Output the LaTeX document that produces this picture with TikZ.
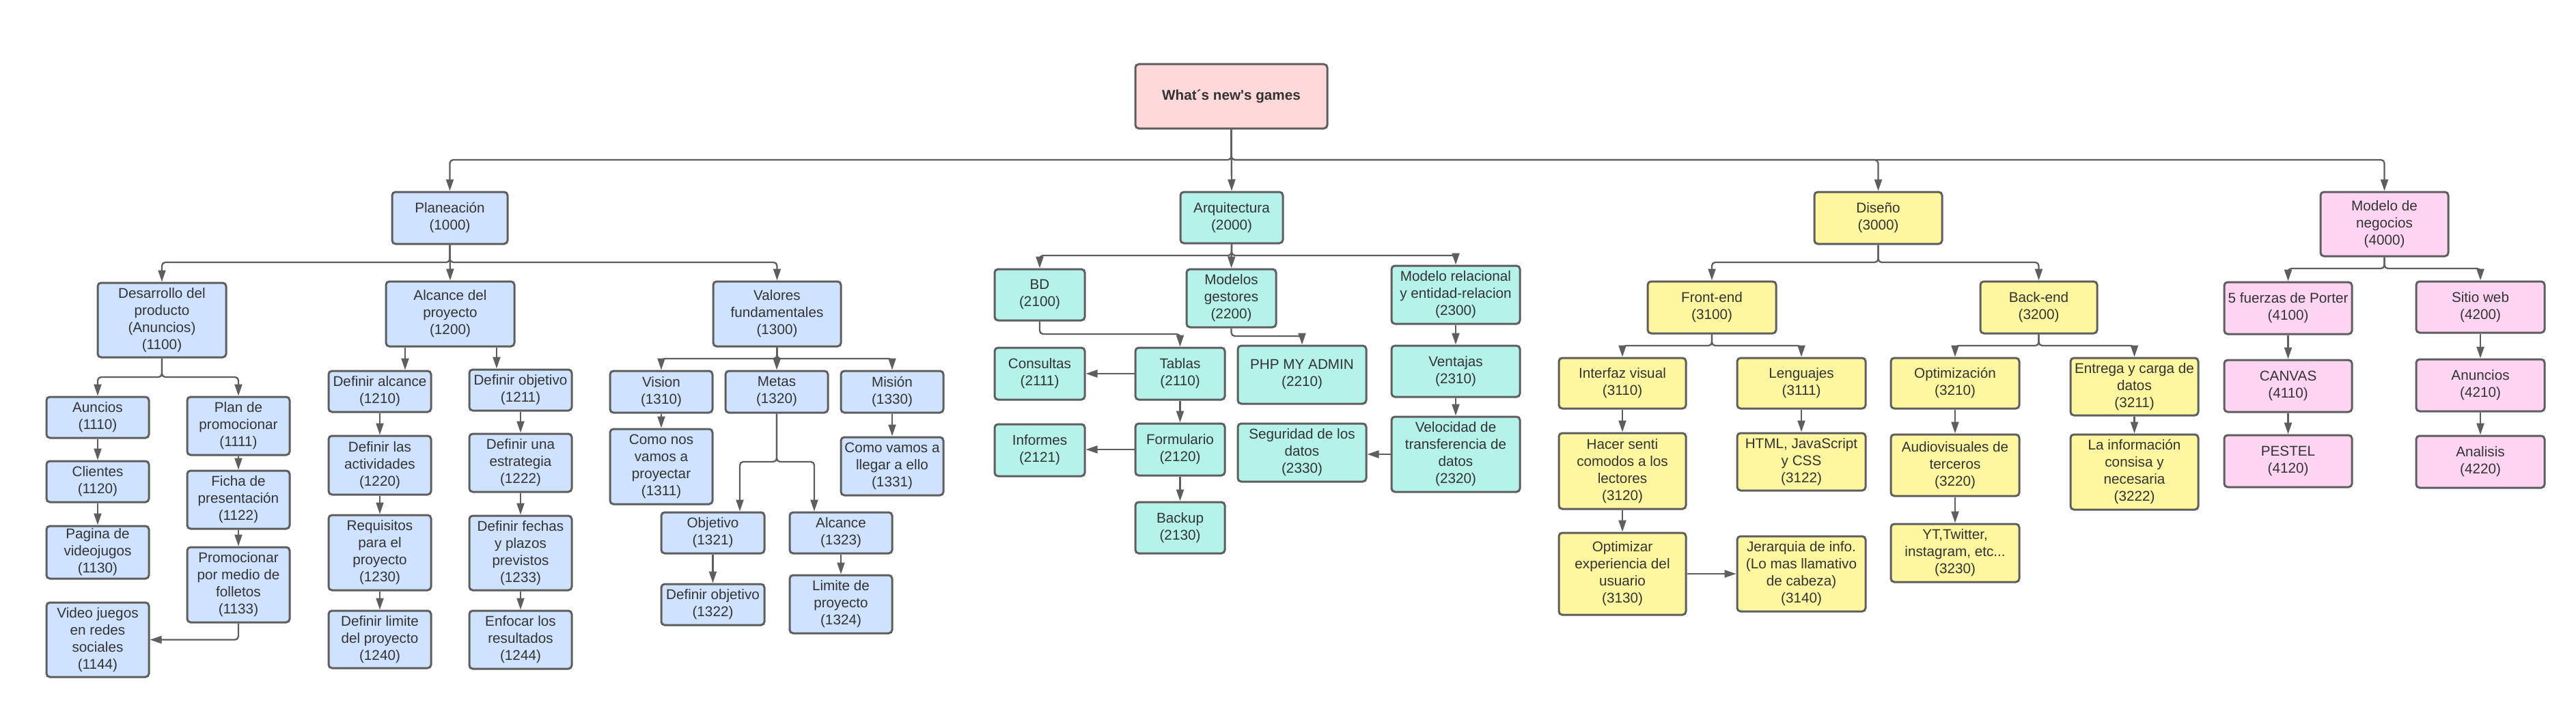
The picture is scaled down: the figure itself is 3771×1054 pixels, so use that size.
\documentclass[tikz,border=0pt]{standalone}
\usepackage{fontspec}
\setmainfont{Liberation Sans}[Ligatures=TeXOff]
\usetikzlibrary{arrows.meta}
\definecolor{bordc}{HTML}{5E5E5E}
\definecolor{txtc}{HTML}{333333}
\definecolor{blueF}{HTML}{CFE2FF}
\definecolor{tealF}{HTML}{B5F2EA}
\definecolor{yelF}{HTML}{FFF6A0}
\definecolor{pinkF}{HTML}{FFD5F3}
\definecolor{rootF}{HTML}{FFD9D9}
\tikzset{
  box/.style={draw=bordc, line width=3pt, rounded corners=5pt, align=center, inner sep=0pt,
    text=txtc, font=\fontsize{20.7}{25}\selectfont},
  bl/.style={box, fill=blueF},
  te/.style={box, fill=tealF},
  ye/.style={box, fill=yelF},
  pk/.style={box, fill=pinkF},
  rt/.style={box, fill=rootF, font=\fontsize{20.7}{25}\selectfont\bfseries},
  conn/.style={draw=bordc, line width=2.3pt, rounded corners=5pt, -{Triangle[length=17pt,width=11pt]}},
}
\newcommand{\bx}[7]{\node[#1,minimum width={(#5-#3)*1pt},minimum height={(#6-#4)*1pt}] (#2) at ({(#3+#5)/2},{-(#4+#6)/2}) {#7};}
\begin{document}
\begin{tikzpicture}[x=1pt,y=1pt]
\fill[white] (0,0) rectangle (3771,-1054);
\useasboundingbox (0,0) rectangle (3771,-1054);
% top
\bx{rt}{root}{1662}{94}{1943}{188}{What´s new's games}
\bx{bl}{pl}{574}{281}{743}{357}{Planeación\\(1000)}
\bx{te}{ar}{1728}{281}{1878}{356}{Arquitectura\\(2000)}
\bx{ye}{di}{2656}{281}{2843}{357}{Diseño\\(3000)}
\bx{pk}{mn}{3397}{281}{3584}{375}{Modelo de\\negocios\\(4000)}
% planeacion
\bx{bl}{dp}{143}{414}{331}{523}{Desarrollo del\\producto\\(Anuncios)\\(1100)}
\bx{bl}{al}{565}{412}{753}{507}{Alcance del\\proyecto\\(1200)}
\bx{bl}{vf}{1044}{412}{1231}{507}{Valores\\fundamentales\\(1300)}
\bx{bl}{n1110}{68}{581}{218}{641}{Auncios\\(1110)}
\bx{bl}{n1111}{274}{581}{424}{666}{Plan de\\promocionar\\(1111)}
\bx{bl}{n1120}{68}{675}{218}{735}{Clientes\\(1120)}
\bx{bl}{n1122}{274}{689}{424}{774}{Ficha de\\presentación\\(1122)}
\bx{bl}{n1130}{68}{770}{218}{847}{Pagina de\\videojugos\\(1130)}
\bx{bl}{n1133}{274}{801}{424}{911}{Promocionar\\por medio de\\folletos\\(1133)}
\bx{bl}{n1144}{68}{882}{218}{991}{Video juegos\\en redes\\sociales\\(1144)}
\bx{bl}{n1210}{481}{543}{631}{603}{Definir alcance\\(1210)}
\bx{bl}{n1220}{481}{638}{631}{724}{Definir las\\actividades\\(1220)}
\bx{bl}{n1230}{481}{754}{631}{864}{Requisitos\\para el\\proyecto\\(1230)}
\bx{bl}{n1240}{481}{894}{631}{978}{Definir limite\\del proyecto\\(1240)}
\bx{bl}{n1211}{687}{541}{837}{601}{Definir objetivo\\(1211)}
\bx{bl}{n1222}{687}{635}{837}{720}{Definir una\\estrategia\\(1222)}
\bx{bl}{n1233}{687}{755}{837}{864}{Definir fechas\\y plazos\\previstos\\(1233)}
\bx{bl}{n1244}{687}{894}{837}{979}{Enfocar los\\resultados\\(1244)}
\bx{bl}{n1310}{893}{543}{1043}{604}{Vision\\(1310)}
\bx{bl}{n1320}{1062}{543}{1212}{604}{Metas\\(1320)}
\bx{bl}{n1330}{1231}{543}{1381}{604}{Misión\\(1330)}
\bx{bl}{n1311}{893}{628}{1043}{738}{Como nos\\vamos a\\proyectar\\(1311)}
\bx{bl}{n1331}{1231}{640}{1381}{725}{Como vamos a\\llegar a ello\\(1331)}
\bx{bl}{n1321}{968}{750}{1119}{810}{Objetivo\\(1321)}
\bx{bl}{n1323}{1156}{750}{1306}{810}{Alcance\\(1323)}
\bx{bl}{n1322}{968}{855}{1119}{915}{Definir objetivo\\(1322)}
\bx{bl}{n1324}{1156}{842}{1306}{927}{Limite de\\proyecto\\(1324)}
% arquitectura
\bx{te}{n2100}{1456}{394}{1588}{469}{BD\\(2100)}
\bx{te}{n2200}{1737}{394}{1868}{479}{Modelos\\gestores\\(2200)}
\bx{te}{n2300}{2037}{389}{2225}{474}{Modelo relacional\\y entidad-relacion\\(2300)}
\bx{te}{n2111}{1456}{509}{1588}{585}{Consultas\\(2111)}
\bx{te}{n2110}{1662}{509}{1793}{585}{Tablas\\(2110)}
\bx{te}{n2210}{1812}{506}{2000}{591}{PHP MY ADMIN\\(2210)}
\bx{te}{n2310}{2037}{506}{2225}{581}{Ventajas\\(2310)}
\bx{te}{n2121}{1456}{621}{1588}{697}{Informes\\(2121)}
\bx{te}{n2120}{1662}{620}{1793}{696}{Formulario\\(2120)}
\bx{te}{n2330}{1812}{620}{2000}{705}{Seguridad de los\\datos\\(2330)}
\bx{te}{n2320}{2037}{610}{2225}{720}{Velocidad de\\transferencia de\\datos\\(2320)}
\bx{te}{n2130}{1662}{735}{1793}{810}{Backup\\(2130)}
% diseno
\bx{ye}{n3100}{2412}{412}{2600}{488}{Front-end\\(3100)}
\bx{ye}{n3200}{2899}{412}{3070}{488}{Back-end\\(3200)}
\bx{ye}{n3110}{2282}{524}{2468}{598}{Interfaz visual\\(3110)}
\bx{ye}{n3111}{2543}{524}{2731}{598}{Lenguajes\\(3111)}
\bx{ye}{n3210}{2768}{524}{2956}{598}{Optimización\\(3210)}
\bx{ye}{n3211}{3031}{524}{3218}{608}{Entrega y carga de\\datos\\(3211)}
\bx{ye}{n3120}{2282}{634}{2468}{745}{Hacer senti\\comodos a los\\lectores\\(3120)}
\bx{ye}{n3122}{2543}{634}{2731}{718}{HTML, JavaScript\\y CSS\\(3122)}
\bx{ye}{n3220}{2768}{636}{2956}{726}{Audiovisuales de\\terceros\\(3220)}
\bx{ye}{n3222}{3031}{636}{3218}{746}{La información\\consisa y\\necesaria\\(3222)}
\bx{ye}{n3130}{2282}{780}{2468}{900}{Optimizar\\experiencia del\\usuario\\(3130)}
\bx{ye}{n3140}{2543}{785}{2731}{895}{Jerarquia de info.\\(Lo mas llamativo\\de cabeza)\\(3140)}
\bx{ye}{n3230}{2768}{767}{2956}{852}{YT,Twitter,\\instagram, etc...\\(3230)}
% modelo
\bx{pk}{n4100}{3256}{413}{3443}{489}{5 fuerzas de Porter\\(4100)}
\bx{pk}{n4200}{3537}{412}{3725}{487}{Sitio web\\(4200)}
\bx{pk}{n4110}{3256}{527}{3443}{603}{CANVAS\\(4110)}
\bx{pk}{n4210}{3537}{526}{3725}{602}{Anuncios\\(4210)}
\bx{pk}{n4120}{3256}{637}{3443}{713}{PESTEL\\(4120)}
\bx{pk}{n4220}{3537}{638}{3725}{714}{Analisis\\(4220)}
% helper coordinates
\coordinate (busT) at (0,-234);
\coordinate (busP) at (0,-384);
\coordinate (busD) at (0,-552);
\coordinate (busV) at (0,-525);
\coordinate (busM) at (0,-676);
\coordinate (busA) at (0,-374);
\coordinate (busBD) at (0,-489);
\coordinate (busMG) at (0,-492);
\coordinate (busDi) at (0,-384);
\coordinate (busFE) at (0,-506);
\coordinate (busMN) at (0,-393);
\path ([xshift=-66pt]al.south) coordinate (alL) ([xshift=68pt]al.south) coordinate (alR);
\path ([xshift=39.5pt]n1321.north) coordinate (c1321) ([xshift=-39pt]n1323.north) coordinate (c1323);
% connectors top
\draw[conn] (root.south) -- (root.south |- busT) -| (pl.north);
\draw[conn] (root.south) -- (ar.north);
\draw[conn] (root.south) -- (root.south |- busT) -| (di.north);
\draw[conn] (root.south) -- (root.south |- busT) -| (mn.north);
% planeacion
\draw[conn] (pl.south) -- (pl.south |- busP) -| (dp.north);
\draw[conn] (pl.south) -- (al.north);
\draw[conn] (pl.south) -- (pl.south |- busP) -| (vf.north);
\draw[conn] (dp.south) -- (dp.south |- busD) -| (n1110.north);
\draw[conn] (dp.south) -- (dp.south |- busD) -| (n1111.north);
\draw[conn] (n1110.south) -- (n1120.north);
\draw[conn] (n1120.south) -- (n1130.north);
\draw[conn] (n1111.south) -- (n1122.north);
\draw[conn] (n1122.south) -- (n1133.north);
\draw[conn] (n1133.south) |- (n1144.east);
\draw[conn] (alL) -- (alL |- n1210.north);
\draw[conn] (alR) -- (alR |- n1211.north);
\draw[conn] (n1210.south) -- (n1220.north);
\draw[conn] (n1220.south) -- (n1230.north);
\draw[conn] (n1230.south) -- (n1240.north);
\draw[conn] (n1211.south) -- (n1222.north);
\draw[conn] (n1222.south) -- (n1233.north);
\draw[conn] (n1233.south) -- (n1244.north);
\draw[conn] (vf.south) -- (vf.south |- busV) -| (n1310.north);
\draw[conn] (vf.south) -- (n1320.north);
\draw[conn] (vf.south) -- (vf.south |- busV) -| (n1330.north);
\draw[conn] (n1310.south) -- (n1311.north);
\draw[conn] (n1330.south) -- (n1331.north);
\draw[conn] (n1320.south) -- (n1320.south |- busM) -| (c1321);
\draw[conn] (n1320.south) -- (n1320.south |- busM) -| (c1323);
\draw[conn] (n1321.south) -- (n1322.north);
\draw[conn] (n1323.south) -- (n1324.north);
% arquitectura
\draw[conn] (ar.south) -- (ar.south |- busA) -| (n2100.north);
\draw[conn] (ar.south) -- (n2200.north);
\draw[conn] (ar.south) -- (ar.south |- busA) -| (n2300.north);
\draw[conn] (n2100.south) -- (n2100.south |- busBD) -| (n2110.north);
\draw[conn] (n2110.west) -- (n2111.east);
\draw[conn] (n2110.south) -- (n2120.north);
\draw[conn] (n2120.west) -- (n2120.west -| n2121.east);
\draw[conn] (n2120.south) -- (n2130.north);
\draw[conn] (n2200.south) -- (n2200.south |- busMG) -| (n2210.north);
\draw[conn] (n2300.south) -- (n2310.north);
\draw[conn] (n2310.south) -- (n2320.north);
\draw[conn] (n2320.west) -- (n2320.west -| n2330.east);
% diseno
\draw[conn] (di.south) -- (di.south |- busDi) -| (n3100.north);
\draw[conn] (di.south) -- (di.south |- busDi) -| (n3200.north);
\draw[conn] (n3100.south) -- (n3100.south |- busFE) -| (n3110.north);
\draw[conn] (n3100.south) -- (n3100.south |- busFE) -| (n3111.north);
\draw[conn] (n3110.south) -- (n3120.north);
\draw[conn] (n3120.south) -- (n3130.north);
\draw[conn] (n3111.south) -- (n3122.north);
\draw[conn] (n3130.east) -- (n3140.west);
\draw[conn] (n3200.south) -- (n3200.south |- busFE) -| (n3210.north);
\draw[conn] (n3200.south) -- (n3200.south |- busFE) -| (n3211.north);
\draw[conn] (n3210.south) -- (n3220.north);
\draw[conn] (n3220.south) -- (n3230.north);
\draw[conn] (n3211.south) -- (n3222.north);
% modelo
\draw[conn] (mn.south) -- (mn.south |- busMN) -| (n4100.north);
\draw[conn] (mn.south) -- (mn.south |- busMN) -| (n4200.north);
\draw[conn] (n4100.south) -- (n4110.north);
\draw[conn] (n4110.south) -- (n4120.north);
\draw[conn] (n4200.south) -- (n4210.north);
\draw[conn] (n4210.south) -- (n4220.north);
\end{tikzpicture}
\end{document}
